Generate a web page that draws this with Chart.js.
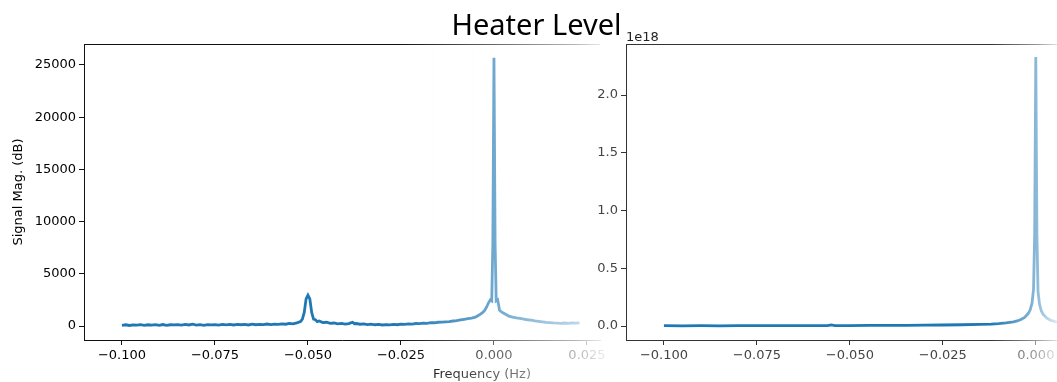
<!DOCTYPE html>
<html>
<head>
<meta charset="utf-8">
<title>Heater Level</title>
<script src="https://cdn.jsdelivr.net/npm/chart.js@4.4.1/dist/chart.umd.min.js"></script>
<style>
  html, body { margin: 0; padding: 0; background: #fff; }
  #wrap { position: relative; width: 1057px; height: 382px; overflow: hidden; }
  #left { position: absolute; left: 0; top: 0; }
  #right { position: absolute; left: 580px; top: 0; }
  #title {
    position: absolute; left: 0; top: 9px; width: 1073px;
    text-align: center; font: 29px/29px "Noto Sans", sans-serif; color: #000;
  }
</style>
</head>
<body>
<div id="wrap">
  <canvas id="left" width="620" height="382"></canvas>
  <canvas id="right" width="477" height="382"></canvas>
  <div id="title">Heater Level</div>
</div>
<script>
(function () {
  "use strict";

  // left panel: signal magnitude vs frequency
  const leftFreq = [
    -0.100, -0.099, -0.098, -0.097, -0.096, -0.095, -0.094, -0.093, -0.092, -0.091,
    -0.090, -0.089, -0.088, -0.087, -0.086, -0.085, -0.084, -0.083, -0.082, -0.081,
    -0.080, -0.079, -0.078, -0.077, -0.076, -0.075, -0.074, -0.073, -0.072, -0.071,
    -0.070, -0.069, -0.068, -0.067, -0.066, -0.065, -0.064, -0.063, -0.062, -0.061,
    -0.060, -0.059, -0.058, -0.057, -0.056, -0.055, -0.054, -0.053, -0.052, -0.0515,
    -0.051, -0.0505, -0.050, -0.0495, -0.049, -0.0485, -0.048, -0.0475, -0.047, -0.046,
    -0.045, -0.044, -0.043, -0.042, -0.041, -0.040, -0.039, -0.0385, -0.038, -0.0375,
    -0.037, -0.036, -0.035, -0.034, -0.033, -0.032, -0.031, -0.030, -0.029, -0.028,
    -0.027, -0.026, -0.025, -0.024, -0.023, -0.022, -0.021, -0.020, -0.019, -0.018,
    -0.017, -0.016, -0.015, -0.014, -0.013, -0.012, -0.011, -0.010, -0.009, -0.008,
    -0.007, -0.006, -0.005, -0.004, -0.003, -0.0025, -0.002, -0.0015, -0.001, -0.0006,
    -0.0003, 0, 0.0003, 0.0006, 0.001, 0.0015, 0.002, 0.0025, 0.003, 0.004,
    0.005, 0.006, 0.007, 0.008, 0.009, 0.010, 0.011, 0.012, 0.013, 0.014,
    0.015, 0.016, 0.017, 0.018, 0.019, 0.020, 0.021, 0.022, 0.023
  ];
  const leftMag = [
    70, 120, 50, 110, 80, 130, 60, 120, 90, 130,
    70, 140, 70, 120, 100, 140, 80, 150, 100, 170,
    90, 130, 70, 140, 100, 130, 80, 150, 110, 160,
    100, 150, 120, 160, 100, 170, 120, 160, 130, 190,
    130, 180, 150, 210, 170, 250, 200, 300, 420, 650,
    1300, 2600, 2950, 2600, 1300, 650, 600, 420, 480, 330,
    360, 260, 290, 210, 250, 180, 230, 300, 360, 220,
    240, 170, 210, 140, 180, 120, 150, 100, 140, 110,
    150, 120, 170, 150, 200, 180, 240, 220, 280, 260,
    320, 310, 360, 380, 400, 420, 480, 520, 580, 640,
    700, 750, 850, 1050, 1300, 1500, 1800, 2200, 2500, 2400,
    8000, 25700, 8000, 2400, 2500, 1500, 1350, 1250, 1150, 950,
    850, 780, 720, 660, 600, 560, 500, 450, 400, 350,
    330, 300, 280, 260, 290, 260, 300, 270, 300
  ];
  const leftXTicks = [-0.1, -0.075, -0.05, -0.025, 0, 0.025];
  const leftYTicks = [0, 5000, 10000, 15000, 20000, 25000];

  // right panel: same sweep, magnitude in units of 1e18
  const rightFreq = [
    -0.100, -0.095, -0.090, -0.085, -0.080, -0.075, -0.070, -0.065, -0.060, -0.056,
    -0.055, -0.054, -0.050, -0.045, -0.040, -0.035, -0.030, -0.025, -0.020, -0.015,
    -0.012, -0.010, -0.008, -0.006, -0.005, -0.004, -0.003, -0.002, -0.0015, -0.001,
    -0.0006, -0.0003, 0, 0.0003, 0.0006, 0.001, 0.0015, 0.002, 0.003, 0.004,
    0.005, 0.006, 0.008, 0.010, 0.015, 0.020, 0.023
  ];
  const rightMag = [
    0.003, 0.002, 0.003, 0.002, 0.003, 0.003, 0.004, 0.003, 0.004, 0.004,
    0.009, 0.004, 0.004, 0.005, 0.005, 0.006, 0.007, 0.009, 0.011, 0.014,
    0.017, 0.021, 0.027, 0.036, 0.044, 0.056, 0.075, 0.11, 0.14, 0.2,
    0.32, 0.8, 2.33, 0.8, 0.3, 0.19, 0.13, 0.1, 0.068, 0.05,
    0.04, 0.032, 0.024, 0.019, 0.012, 0.009, 0.008
  ];
  const rightXTicks = [-0.1, -0.075, -0.05, -0.025, 0];
  const rightYTicks = [0, 0.5, 1.0, 1.5, 2.0];

  const LINE = "#1f77b4";
  const TICK_FONT = { family: "DejaVu Sans", size: 13 };

  function freqLabel(v) {
    return (v < 0 ? "\u2212" : "") + Math.abs(v).toFixed(3);
  }

  // top spine, extra labels and the white fade on the right side
  const panelDecor = {
    id: "panelDecor",
    afterDraw(chart, args, o) {
      const ctx = chart.ctx;
      const a = chart.chartArea;
      ctx.save();
      ctx.strokeStyle = o.spine;
      ctx.lineWidth = 1;
      ctx.beginPath();
      ctx.moveTo(a.left, a.top + 0.5);
      ctx.lineTo(a.right, a.top + 0.5);
      ctx.stroke();
      (o.texts || []).forEach(function (t) {
        ctx.font = "13px 'DejaVu Sans'";
        ctx.fillStyle = t.color;
        ctx.textAlign = t.align;
        ctx.textBaseline = "alphabetic";
        ctx.fillText(t.text, t.x, t.y);
      });
      const g = ctx.createLinearGradient(o.fadeFrom, 0, chart.width, 0);
      o.fadeStops.forEach(function (s) {
        g.addColorStop(s[0], "rgba(255,255,255," + s[1] + ")");
      });
      ctx.fillStyle = g;
      ctx.fillRect(o.fadeFrom, o.fadeTop, chart.width - o.fadeFrom, chart.height - o.fadeTop);
      ctx.restore();
    }
  };

  function makePanel(id, freq, mag, cfg) {
    const points = freq.map(function (f, i) { return { x: f, y: mag[i] }; });
    return new Chart(document.getElementById(id), {
      type: "line",
      data: {
        datasets: [{
          data: points,
          borderColor: LINE,
          borderWidth: 2.8,
          pointRadius: 0,
          tension: 0,
          fill: false
        }]
      },
      options: {
        responsive: false,
        animation: false,
        layout: { padding: { top: 44, right: cfg.padRight, bottom: 0, left: 0 } },
        plugins: {
          legend: { display: false },
          tooltip: { enabled: false },
          panelDecor: cfg.decor
        },
        scales: {
          x: {
            type: "linear",
            min: -0.1102,
            max: cfg.xMax,
            afterBuildTicks: function (s) { s.ticks = cfg.xTicks.map(function (v) { return { value: v }; }); },
            afterFit: function (s) { s.height = 42; s.paddingLeft = 0; s.paddingRight = 0; },
            grid: { drawOnChartArea: false, drawTicks: true, tickLength: 5, color: cfg.axis },
            border: { display: true, color: cfg.axis, width: 1 },
            ticks: { color: cfg.tickColor, font: TICK_FONT, padding: 3, maxRotation: 0, autoSkip: false,
              callback: function (v) { return freqLabel(v); } }
          },
          y: {
            min: cfg.yMin,
            max: cfg.yMax,
            afterBuildTicks: function (s) { s.ticks = cfg.yTicks.map(function (v) { return { value: v }; }); },
            afterFit: function (s) { s.width = cfg.yWidth; },
            grid: { drawOnChartArea: false, drawTicks: true, tickLength: 5, color: cfg.axis },
            border: { display: true, color: cfg.axis, width: 1 },
            title: cfg.yTitle,
            ticks: { color: cfg.tickColor, font: TICK_FONT, padding: 3, autoSkip: false,
              callback: cfg.yLabel }
          }
        }
      },
      plugins: [panelDecor]
    });
  }

  makePanel("left", leftFreq, leftMag, {
    xMax: 0.0285,
    padRight: 20,
    xTicks: leftXTicks,
    yMin: -1340,
    yMax: 27010,
    yTicks: leftYTicks,
    yWidth: 84,
    axis: "#111",
    tickColor: "#000",
    yLabel: function (v) { return String(v); },
    yTitle: { display: true, text: "Signal Mag. (dB)", color: "#000",
      font: { family: "DejaVu Sans", size: 13 }, padding: { top: 11, bottom: 0 } },
    decor: {
      spine: "#111",
      texts: [{ text: "Frequency (Hz)", x: 482, y: 378, align: "center", color: "#000" }],
      fadeFrom: 397,
      fadeTop: 40,
      fadeStops: [[0, 0], [0.435, 0.36], [0.81, 0.7], [0.9, 0.88], [1, 1]]
    }
  });

  makePanel("right", rightFreq, rightMag, {
    xMax: 0.0057,
    padRight: 0,
    xTicks: rightXTicks,
    yMin: -0.121,
    yMax: 2.4416,
    yTicks: rightYTicks,
    yWidth: 46,
    axis: "#333",
    tickColor: "#444",
    yLabel: function (v) { return v.toFixed(1); },
    yTitle: { display: false },
    decor: {
      spine: "#333",
      texts: [{ text: "1e18", x: 46, y: 41, align: "left", color: "#222" }],
      fadeFrom: 410,
      fadeTop: 40,
      fadeStops: [[0, 0], [0.69, 0.48], [1, 0.85]]
    }
  });
})();
</script>
</body>
</html>
